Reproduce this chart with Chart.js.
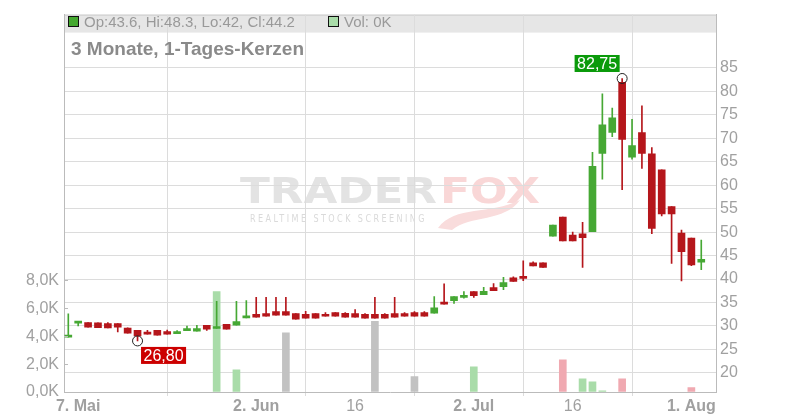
<!DOCTYPE html>
<html><head><meta charset="utf-8">
<script src="https://cdn.jsdelivr.net/npm/chart.js@4/dist/chart.umd.min.js"></script>
<style>html,body{margin:0;padding:0;background:#fff}#w{width:800px;height:420px;position:relative}</style>
</head><body><div id="w"><canvas id="c"></canvas></div>
<script>
// Trading days (2025)
const dates = [
 '05-06','05-07','05-08','05-09','05-12','05-13','05-14','05-15','05-16','05-19',
 '05-20','05-21','05-22','05-23','05-26','05-27','05-28','05-29','05-30','06-02',
 '06-03','06-04','06-05','06-06','06-09','06-10','06-11','06-12','06-13','06-16',
 '06-17','06-18','06-19','06-20','06-23','06-24','06-25','06-26','06-27','06-30',
 '07-01','07-02','07-03','07-04','07-07','07-08','07-09','07-10','07-11','07-14',
 '07-15','07-16','07-17','07-18','07-21','07-22','07-23','07-24','07-25','07-28',
 '07-29','07-30','07-31','08-01','08-04'
];
const opens = [
 27.6,30.6,30.7,30.65,30.5,30.5,29.55,29.05,28.7,29.05,
 28.8,28.35,29.0,28.9,30.15,29.45,30.35,30.15,31.7,32.45,
 32.65,33.05,33.05,32.65,32.45,32.65,32.45,32.85,32.7,32.65,
 32.45,32.45,32.45,32.65,32.65,32.85,32.85,32.7,34.75,35.4,
 36.1,37.3,36.65,38.15,38.35,40.25,40.55,43.45,43.45,49.15,
 53.2,49.35,49.65,50.1,66.8,71.25,81.95,65.95,71.2,66.7,
 63.3,55.45,49.8,48.75,43.6
];
const highs = [
 32.6,30.7,30.7,30.65,30.7,30.5,29.6,29.05,29.05,29.05,
 29.1,29.0,29.95,30.15,30.15,35.25,30.35,35.25,35.4,36.1,
 36.1,36.1,36.1,32.65,33.1,32.65,32.85,32.85,32.85,33.5,
 32.65,36.1,32.65,36.1,32.85,33.05,33.05,36.25,38.95,36.25,
 37.3,37.3,38.2,39.05,40.35,40.45,43.85,43.65,43.45,51.5,
 53.2,50.0,52.1,67.0,79.5,76.45,82.75,74.05,76.9,68.0,
 63.3,55.45,50.45,48.75,48.3
];
const lows = [
 27.6,30.0,29.75,29.6,29.55,28.7,28.45,26.8,28.25,28.05,
 28.25,28.35,29.0,28.9,29.05,29.45,29.3,30.15,31.7,31.85,
 32.05,32.3,32.3,31.45,31.65,31.65,32.05,32.05,31.85,31.85,
 31.65,31.65,31.65,31.85,32.05,32.05,32.05,32.7,34.65,34.8,
 35.9,36.1,36.65,37.5,37.7,39.5,39.65,42.8,42.45,49.15,
 48.1,48.1,42.45,50.1,61.3,70.35,59.05,65.55,63.6,49.65,
 53.45,43.3,39.6,42.85,42.0
];
const closes = [
 27.65,30.65,29.75,29.6,29.55,29.75,28.45,27.85,28.25,28.05,
 28.25,28.45,29.05,29.45,29.3,29.55,29.3,30.9,31.75,31.85,
 32.05,32.3,32.3,31.45,31.65,31.65,32.05,32.05,31.85,31.85,
 31.65,31.65,31.65,31.85,32.05,32.05,32.05,33.85,34.65,36.25,
 36.25,36.45,37.35,37.5,39.25,39.5,40.1,42.8,42.45,51.5,
 48.1,48.1,48.8,64.0,72.85,74.35,69.75,68.45,66.8,50.8,
 53.9,53.9,45.85,43.0,44.2
];
// Volume in thousands
const volumes = [
 0,0,0,0,0,0,0,0,0,0,
 0,0,0,0,0,7.21,0,1.59,0,0,
 0,0,4.24,0,0,0,0,0,0,0,
 0,5.07,0,0,0,1.11,0,0,0,0,
 0,1.8,0,0,0,0,0,0,0,0,
 2.3,0,0.95,0.73,0.09,0,0.95,0,0,0,
 0,0,0,0.31,0
];
const tickIndex = [1,19,29,41,51,63];
const tickLabels = ['7. Mai','2. Jun','16','2. Jul','16','1. Aug'];
const tickBold = [true,true,false,true,false,true];
const priceTicks = [20,25,30,35,40,45,50,55,60,65,70,75,80,85];
const volumeTicks = [0,2,4,6,8];
const headerTitle = '3 Monate, 1-Tages-Kerzen';

const FONT = '"Liberation Sans", Arial, sans-serif';
const RED = '#b5161b', GREEN = '#46a834';
const VGREEN = '#a9dca9', VPINK = '#f0a9b1', VGREY = '#c2c2c2';

const candleColors = dates.map((d,i)=> closes[i] >= opens[i] ? GREEN : RED);
const volColors = dates.map((d,i)=> i===0 ? VGREY : (closes[i]>closes[i-1] ? VGREEN : (closes[i]<closes[i-1] ? VPINK : VGREY)));
const wickData = dates.map((d,i)=>({x:i, y:[lows[i], highs[i]]}));
const bodyData = dates.map((d,i)=>({x:i, y:[opens[i], closes[i]]}));
const volData = dates.map((d,i)=>({x:i, y: volumes[i] > 0 ? volumes[i] : null}));

function fmt2(v){ return v.toFixed(2).replace('.',','); }

const deco = {
  id:'deco',
  beforeDraw(chart){
    const {ctx, chartArea:a} = chart;
    ctx.save();
    // watermark
    ctx.font = 'bold 36px "DejaVu Sans", sans-serif';
    const w1 = ctx.measureText('TRADER').width;
    ctx.save(); ctx.translate(240,203); ctx.scale(197/w1,1);
    ctx.fillStyle = '#e3e3e3'; ctx.fillText('TRADER',0,0); ctx.restore();
    const w2 = ctx.measureText('FOX').width;
    ctx.save(); ctx.translate(440,203); ctx.scale(100/w2,1);
    ctx.fillStyle = '#f9d7d7'; ctx.fillText('FOX',0,0); ctx.restore();
    // tail swoosh
    ctx.fillStyle = '#f9dcdc';
    ctx.beginPath();
    ctx.moveTo(438,228);
    ctx.bezierCurveTo(455,205,490,215,520,200);
    ctx.bezierCurveTo(505,222,470,215,452,230);
    ctx.closePath(); ctx.fill();
    ctx.font = '10px "DejaVu Sans", sans-serif';
    try { ctx.letterSpacing = '3px'; } catch(e){}
    const w3 = ctx.measureText('REALTIME STOCK SCREENING').width;
    ctx.save(); ctx.translate(250,222); ctx.scale(177/w3,1);
    ctx.fillStyle = '#dadada'; ctx.fillText('REALTIME STOCK SCREENING',0,0); ctx.restore();
    try { ctx.letterSpacing = '0px'; } catch(e){}
    // header band
    ctx.fillStyle = '#e6e6e6';
    ctx.fillRect(a.left, a.top, a.right-a.left, 18);
    ctx.strokeStyle = '#cccccc'; ctx.lineWidth = 1;
    ctx.beginPath(); ctx.moveTo(a.left, a.top+0.5); ctx.lineTo(a.right, a.top+0.5); ctx.stroke();
    ctx.restore();
  },
  afterDatasetsDraw(chart){
    const {ctx} = chart;
    const xs = chart.scales.x, ys = chart.scales.y;
    let hi = 0, lo = 0;
    highs.forEach((v,i)=>{ if(v>highs[hi]) hi=i; });
    lows.forEach((v,i)=>{ if(v<lows[lo]) lo=i; });
    ctx.save();
    ctx.font = '16px ' + FONT;
    ctx.textBaseline = 'middle';
    // high marker
    let cx = xs.getPixelForValue(hi), cy = ys.getPixelForValue(highs[hi]);
    ctx.strokeStyle = '#222'; ctx.lineWidth = 1;
    ctx.beginPath(); ctx.arc(cx, cy, 5, 0, Math.PI*2); ctx.stroke();
    let t = fmt2(highs[hi]); let tw = ctx.measureText(t).width;
    let bw = tw + 5, bh = 17;
    let bx = cx - 2.5 - bw, by = cy - 6.5 - bh;
    ctx.fillStyle = '#0a9a0a'; ctx.fillRect(bx, by, bw, bh);
    ctx.fillStyle = '#fff'; ctx.fillText(t, bx + 2.5, by + bh/2 + 1);
    // low marker
    cx = xs.getPixelForValue(lo); cy = ys.getPixelForValue(lows[lo]);
    ctx.beginPath(); ctx.arc(cx, cy, 5, 0, Math.PI*2); ctx.stroke();
    t = fmt2(lows[lo]); tw = ctx.measureText(t).width;
    bw = tw + 5;
    bx = cx + 3.5; by = cy + 6;
    ctx.fillStyle = '#cc0000'; ctx.fillRect(bx, by, bw, bh);
    ctx.fillStyle = '#fff'; ctx.fillText(t, bx + 2.5, by + bh/2 + 1);
    ctx.restore();
  },
  afterDraw(chart){
    const {ctx, chartArea:a} = chart;
    const n = dates.length - 1;
    ctx.save();
    // header legend
    ctx.fillStyle = closes[n] >= opens[n] ? '#44a82f' : RED;
    ctx.fillRect(68.5, 16.5, 10, 10);
    ctx.strokeStyle = '#111'; ctx.lineWidth = 1; ctx.strokeRect(68.5, 16.5, 10, 10);
    ctx.font = '15px ' + FONT; ctx.fillStyle = '#999'; ctx.textBaseline = 'alphabetic';
    const fmtv = v => String(Math.round(v*10)/10);
    ctx.fillText('Op:'+fmtv(opens[n])+', Hi:'+fmtv(highs[n])+', Lo:'+fmtv(lows[n])+', Cl:'+fmtv(closes[n]), 84, 27);
    ctx.fillStyle = VGREEN; ctx.fillRect(328.5, 16.5, 10, 10);
    ctx.strokeRect(328.5, 16.5, 10, 10);
    ctx.fillStyle = '#999';
    ctx.fillText('Vol: ' + Math.round(volumes[n]) + 'K', 344, 27);
    // title
    ctx.font = 'bold 19px ' + FONT; ctx.fillStyle = '#8a8a8a';
    ctx.fillText(headerTitle, 71, 54.5);
    // inward ticks on volume axis
    const vs = chart.scales.v;
    ctx.strokeStyle = '#bbbbbb';
    volumeTicks.forEach(v=>{
      const y = Math.round(vs.getPixelForValue(v)) + 0.5;
      ctx.beginPath(); ctx.moveTo(a.left, y); ctx.lineTo(a.left+4, y); ctx.stroke();
    });
    ctx.restore();
  }
};

new Chart(document.getElementById('c'), {
  type:'bar',
  data:{
    datasets:[
      {data:volData, yAxisID:'v', xAxisID:'x', backgroundColor:volColors, barThickness:7, grouped:false, order:3},
      {data:wickData, yAxisID:'y', xAxisID:'x', backgroundColor:candleColors, barThickness:1, grouped:false, order:2},
      {data:bodyData, yAxisID:'y', xAxisID:'x', backgroundColor:candleColors, barThickness:7, grouped:false, order:1, minBarLength:2}
    ]
  },
  options:{
    responsive:true, maintainAspectRatio:false, animation:false,
    layout:{padding:{top:12,left:0,right:0,bottom:0}},
    plugins:{legend:{display:false}, tooltip:{enabled:false}},
    scales:{
      x:{type:'linear', min:-0.435, max:65.49, offset:false,
        afterBuildTicks:s=>{ s.ticks = tickIndex.map(v=>({value:v})); },
        afterFit:s=>{ s.height = 28; },
        ticks:{autoSkip:false, maxRotation:0, minRotation:0, color:'#a0a0a0', padding:1,
          font:c=>({family:FONT, size:16, weight: tickBold[c.index] ? 'bold' : 'normal'}),
          callback:(v)=>{ const k = tickIndex.indexOf(v); return k>=0 ? tickLabels[k] : ''; }},
        grid:{color:'#dcdcdc', tickLength:4},
        border:{color:'#bbbbbb'}
      },
      y:{type:'linear', position:'right', min:15.91, max:96.37,
        afterBuildTicks:s=>{ s.ticks = priceTicks.map(v=>({value:v})); },
        afterFit:s=>{ s.width = 84; },
        ticks:{color:'#a0a0a0', padding:4, font:{family:FONT, size:16}},
        grid:{color:'#dcdcdc', drawTicks:false},
        border:{color:'#bbbbbb'}
      },
      v:{type:'linear', position:'left', min:0, max:27.07,
        afterBuildTicks:s=>{ s.ticks = volumeTicks.map(v=>({value:v})); },
        afterFit:s=>{ s.width = 64; },
        ticks:{color:'#a0a0a0', padding:5, font:{family:FONT, size:16},
          callback:v=> v.toFixed(1).replace('.',',') + 'K'},
        grid:{drawOnChartArea:false, drawTicks:false},
        border:{color:'#bbbbbb'}
      }
    }
  },
  plugins:[deco]
});
</script>
</body></html>
